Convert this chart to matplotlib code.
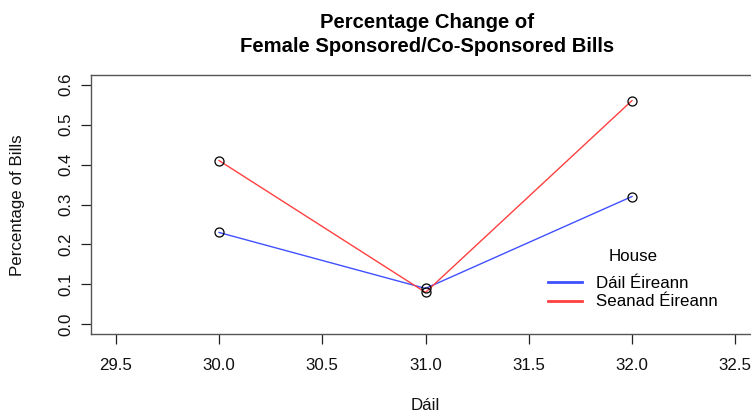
import matplotlib
matplotlib.use("Agg")
import matplotlib.pyplot as plt

plt.rcParams['font.family'] = ['Liberation Sans', 'DejaVu Sans']

dail = [30, 31, 32]
dail_eireann = [0.23, 0.09, 0.32]
seanad_eireann = [0.41, 0.08, 0.56]
series_names = ["Dáil Éireann", "Seanad Éireann"]
series_colors = ["#4050FF", "#FF4040"]
x_ticks = [29.5, 30.0, 30.5, 31.0, 31.5, 32.0, 32.5]
y_ticks = [0.0, 0.1, 0.2, 0.3, 0.4, 0.5, 0.6]

W, H = 751, 417
FS = 12.2
fig = plt.figure(figsize=(W / 100, H / 100), dpi=100)
fig.patch.set_facecolor("white")
left, right, top, bottom = 91, 760, 75, 334
ax = fig.add_axes([left / W, 1 - bottom / H, (right - left) / W, (bottom - top) / H])

handles = []
for vals, name, col in zip([dail_eireann, seanad_eireann], series_names, series_colors):
    ax.plot(dail, vals, color=col, lw=1.0, zorder=2)
    ax.plot(dail, vals, linestyle='none', marker='o', markersize=6.5,
            markerfacecolor='none', markeredgecolor='black', markeredgewidth=0.9, zorder=3)
    h, = ax.plot([], [], color=col, lw=2.0, label=name)
    handles.append(h)

ax.set_xlim(29.5 - 0.12, 32.5 + 0.12)
ax.set_ylim(-0.024, 0.624)
ax.set_xticks(x_ticks)
ax.set_xticklabels([f"{t:.1f}" for t in x_ticks])
ax.set_yticks(y_ticks)
ax.set_yticklabels([f"{t:.1f}" for t in y_ticks], rotation=90, va='center')
ax.tick_params(direction='out', length=7, width=0.9, colors='#222222',
               labelsize=FS, labelcolor='#111111')
ax.tick_params(axis='x', pad=10)
ax.tick_params(axis='y', pad=6)
for s in ax.spines.values():
    s.set_color('#555555')
    s.set_linewidth(1.0)

leg = ax.legend(handles=handles, title="House", frameon=False, loc='center',
                bbox_to_anchor=(633 / W, 1 - 279 / H), bbox_transform=fig.transFigure,
                fontsize=FS, title_fontsize=FS, handlelength=2.0,
                handletextpad=0.85, labelspacing=0.2, borderpad=0.2)
leg._legend_box.sep = 9

fig.text(427 / W, 1 - 22 / H, "Percentage Change of", ha='center', va='center',
         fontsize=14.6, fontweight='bold')
fig.text(427 / W, 1 - 47 / H, "Female Sponsored/Co-Sponsored Bills", ha='center',
         va='center', fontsize=14.6, fontweight='bold')
fig.text(425 / W, 1 - 406 / H, "Dáil", ha='center', va='center', fontsize=FS, color='#111111')
fig.text(18 / W, 1 - 205 / H, "Percentage of Bills", ha='center', va='center',
         rotation=90, fontsize=FS, color='#111111')

fig.savefig("out.png", dpi=100, facecolor='white')
